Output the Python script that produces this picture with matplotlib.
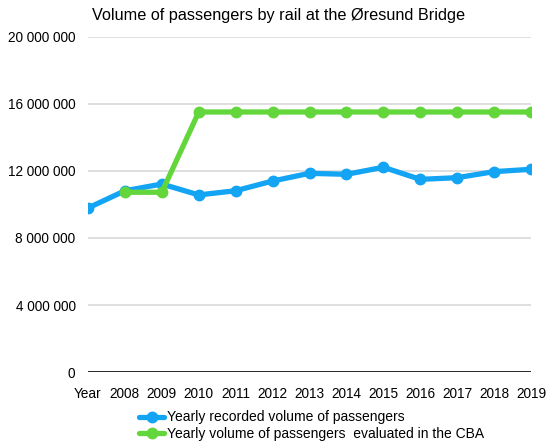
import matplotlib.pyplot as plt
import numpy as np

plt.rcParams['font.family'] = ['Liberation Sans', 'DejaVu Sans']

# categories on the x axis
years = ['Year', '2008', '2009', '2010', '2011', '2012', '2013',
         '2014', '2015', '2016', '2017', '2018', '2019']

# recorded passengers (first point sits on the "Year" slot)
recorded = [9790000, 10820000, 11220000, 10570000, 10820000, 11400000, 11860000,
            11800000, 12220000, 11500000, 11600000, 11960000, 12100000]

# CBA forecast, no value for the "Year" slot
cba = [None, 10730000, 10730000, 15520000, 15520000, 15520000, 15520000,
       15520000, 15520000, 15520000, 15520000, 15520000, 15520000]

yticks = [0, 4000000, 8000000, 12000000, 16000000, 20000000]

blue = '#13a4f4'
green = '#62d63a'

fig = plt.figure(figsize=(5.5, 4.45), dpi=100)
ax = fig.add_axes([0.16, 0.164, 0.8055, 0.753])

x = np.arange(len(years))
cba_arr = np.array([np.nan if v is None else v for v in cba], dtype=float)

ax.plot(x, recorded, color=blue, lw=3.8, marker='o', ms=7.5,
        label='Yearly recorded volume of passengers', solid_capstyle='round', zorder=3)
ax.plot(x, cba_arr, color=green, lw=3.8, marker='o', ms=7.5,
        label='Yearly volume of passengers  evaluated in the CBA', solid_capstyle='round', zorder=4)

ax.set_xlim(0, len(years) - 1)
ax.set_ylim(0, 20000000)
ax.set_yticks(yticks)
ax.set_yticklabels([f"{v:,}".replace(',', ' ') for v in yticks])
ax.set_xticks(x)
ax.set_xticklabels(years)

for v in yticks[1:]:
    ax.axhline(v, color='#d9d9d9', lw=1.2, zorder=1)
ax.axhline(0, color='black', lw=1.2, zorder=2)

for s in ax.spines.values():
    s.set_visible(False)
ax.tick_params(axis='both', length=0, labelsize=9.8)
ax.tick_params(axis='y', pad=9)
ax.tick_params(axis='x', pad=11)

fig.text(0.507, 0.965, 'Volume of passengers by rail at the Øresund Bridge',
         fontsize=11.7, ha='center', va='center')

ax.legend(loc='upper left', bbox_to_anchor=(0.1, -0.094), frameon=False,
          fontsize=10, handlelength=1.8, handletextpad=0.2, labelspacing=0.2,
          borderpad=0)

fig.savefig('out.png', dpi=100)
